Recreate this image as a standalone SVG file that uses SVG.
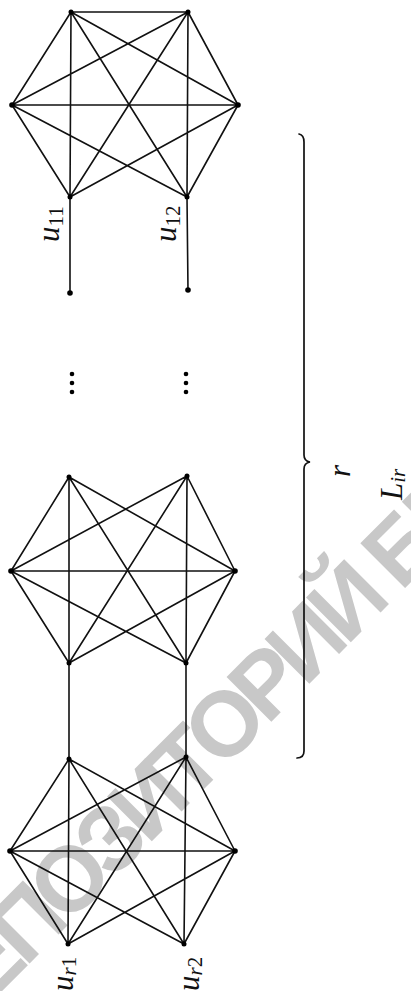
<svg xmlns="http://www.w3.org/2000/svg" width="411" height="991" viewBox="0 0 411 991">
<style>
.e{stroke:#111;stroke-width:1.6;fill:none;stroke-linecap:round}
.v{fill:#000}
.lb{font-family:"Liberation Serif",serif;font-size:31px;font-style:italic;fill:#111}
.sb{font-size:21px}
.rm{font-style:normal}
.wm{font-family:"Liberation Sans",sans-serif;font-weight:bold;font-size:92px;letter-spacing:-7.5px;fill:#c8c8c8}
</style>
<text class="wm" transform="translate(-51,1044) rotate(-45)">РЕПОЗИТОРИЙ БГУ</text>
<g id="connectors" class="e">
<path d="M71,12L188,12M71,12L12,105M71,12L238,105M71,12L70,197M71,12L187,197M188,12L12,105M188,12L238,105M188,12L70,197M188,12L187,197M12,105L238,105M12,105L70,197M12,105L187,197M238,105L70,197M238,105L187,197"/>
<path d="M70,197L70,293M187,197L188,290"/>
<path d="M69,477L11,571M69,477L235,571M69,477L69,663M69,477L186,663M187,476L11,571M187,476L235,571M187,476L69,663M187,476L186,663M11,571L235,571M11,571L69,663M11,571L186,663M235,571L69,663M235,571L186,663"/>
<path d="M69,663L69,759M186,663L186,757"/>
<path d="M69,759L10,851M69,759L235,851M69,759L68,944M69,759L184,944M186,757L10,851M186,757L235,851M186,757L68,944M186,757L184,944M10,851L235,851M10,851L68,944M10,851L184,944M235,851L68,944M235,851L184,944"/>
<path d="M299,134Q304,135 304,142L304,455Q304,461 310,462Q304,463 304,469L304,751Q304,758 297,758" stroke-width="1.7"/>
</g>
<g id="n-a1"><circle class="v" cx="71" cy="12" r="2.5"/></g>
<g id="n-b1"><circle class="v" cx="188" cy="12" r="2.5"/></g>
<g id="n-c1"><circle class="v" cx="12" cy="105" r="2.8"/></g>
<g id="n-d1"><circle class="v" cx="238" cy="105" r="2.8"/></g>
<g id="n-u11"><circle class="v" cx="70" cy="197" r="2.5"/><text class="lb" transform="translate(59,242) rotate(-90)">u<tspan class="sb rm" dy="4">11</tspan></text></g>
<g id="n-u12"><circle class="v" cx="187" cy="197" r="2.5"/><text class="lb" transform="translate(176,242) rotate(-90)">u<tspan class="sb rm" dy="4">12</tspan></text></g>
<g id="n-p1"><circle class="v" cx="70" cy="293" r="2.8"/></g>
<g id="n-p2"><circle class="v" cx="188" cy="290" r="2.8"/></g>
<g id="dots1"><circle class="v" cx="72" cy="374" r="2.3"/><circle class="v" cx="72" cy="383" r="2.3"/><circle class="v" cx="72" cy="392" r="2.3"/></g>
<g id="dots2"><circle class="v" cx="186" cy="374" r="2.3"/><circle class="v" cx="186" cy="383" r="2.3"/><circle class="v" cx="186" cy="392" r="2.3"/></g>
<g id="n-a2"><circle class="v" cx="69" cy="477" r="2.5"/></g>
<g id="n-b2"><circle class="v" cx="187" cy="476" r="2.5"/></g>
<g id="n-c2"><circle class="v" cx="11" cy="571" r="2.8"/></g>
<g id="n-d2"><circle class="v" cx="235" cy="571" r="2.8"/></g>
<g id="n-e2"><circle class="v" cx="69" cy="663" r="2.5"/></g>
<g id="n-f2"><circle class="v" cx="186" cy="663" r="2.5"/></g>
<g id="n-a3"><circle class="v" cx="69" cy="759" r="2.5"/></g>
<g id="n-b3"><circle class="v" cx="186" cy="757" r="2.5"/></g>
<g id="n-c3"><circle class="v" cx="10" cy="851" r="2.8"/></g>
<g id="n-d3"><circle class="v" cx="235" cy="851" r="2.8"/></g>
<g id="n-ur1"><circle class="v" cx="68" cy="944" r="2.5"/><text class="lb" transform="translate(73,991) rotate(-90)">u<tspan class="sb" dy="3">r</tspan><tspan class="sb rm">1</tspan></text></g>
<g id="n-ur2"><circle class="v" cx="184" cy="944" r="2.5"/><text class="lb" transform="translate(199,991) rotate(-90)">u<tspan class="sb" dy="3">r</tspan><tspan class="sb rm">2</tspan></text></g>
<g id="brace-labels">
<text class="lb" transform="translate(350,477) rotate(-90)">r</text>
<text class="lb" transform="translate(402,500) rotate(-90)">L<tspan class="sb" dy="3">ir</tspan></text>
</g>
</svg>
